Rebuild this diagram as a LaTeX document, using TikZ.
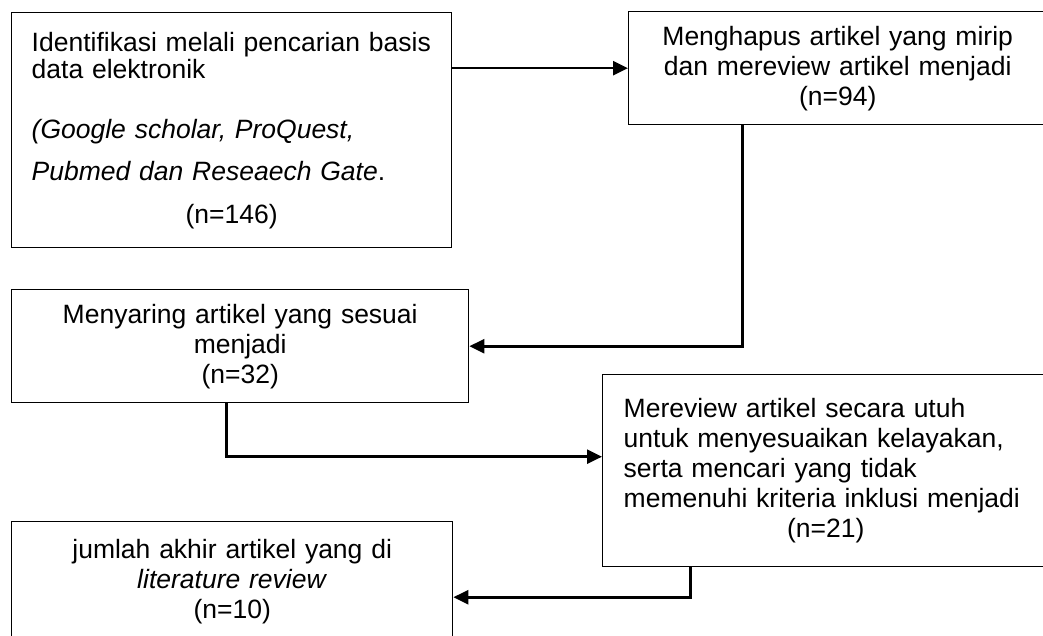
\documentclass[tikz,border=0pt]{standalone}
\usepackage{fontspec}
\setmainfont{Liberation Sans}
\usepackage{tikz}
\usetikzlibrary{arrows.meta}

\begin{document}
\begin{tikzpicture}[x=1pt, y=-1pt,
		box_style/.style={rectangle,draw=black,line width=1.4pt,anchor=north west,align=center,inner xsep=0pt,font=\fontsize{26.5}{30}\selectfont},
		box_left_style/.style={box_style,align=left,inner xsep=21pt},
		arrow_style/.style={draw=black,line width=2.6pt,-{Triangle[length=15pt,width=14pt]}}]
		
		\useasboundingbox (0,0) rectangle (1043,636);
		\clip (0,0) rectangle (1043,636);
		
		\node[box_left_style,text width=400pt,inner xsep=20pt,minimum height=235pt] (ident) at (11,12)
			{Identifikasi melali pencarian basis\\[-3pt]
			 data elektronik\\[30pt]
			 \textit{(Google scholar, ProQuest,}\\[12pt]
			 \textit{Pubmed dan Reseaech Gate}.\\[13pt]
			 \makebox[\linewidth]{(n=146)}};
		\node[box_style,text width=380pt,minimum width=418pt,minimum height=113pt] (dup) at (628,11)
			{Menghapus artikel yang mirip\\ dan mereview artikel menjadi\\ (n=94)};
		\node[box_style,text width=420pt,minimum width=457pt,minimum height=113pt] (screen) at (11,289)
			{Menyaring artikel yang sesuai\\ menjadi\\ (n=32)};
		\node[box_left_style,text width=404pt,minimum height=192pt] (review) at (602,374)
			{Mereview artikel secara utuh\\
			 untuk menyesuaikan kelayakan,\\
			 serta mencari yang tidak\\
			 memenuhi kriteria inklusi menjadi\\
			 \makebox[\linewidth]{(n=21)}};
		\node[box_style,text width=410pt,minimum width=441pt,minimum height=119pt] (final) at (11,521)
			{jumlah akhir artikel yang di\\ \textit{literature review}\\ (n=10)};
		
		\draw[arrow_style] (ident.east |- dup.west) -- (dup.west);
		\draw[arrow_style] ([xshift=-95pt]dup.south) |- (screen.east);
		\draw[arrow_style] ([xshift=-14pt]screen.south) |- ([yshift=14pt]review.west);
		\draw[arrow_style] ([xshift=-135pt]review.south) |- ([yshift=-16pt]final.east);
		
\end{tikzpicture}
\end{document}
